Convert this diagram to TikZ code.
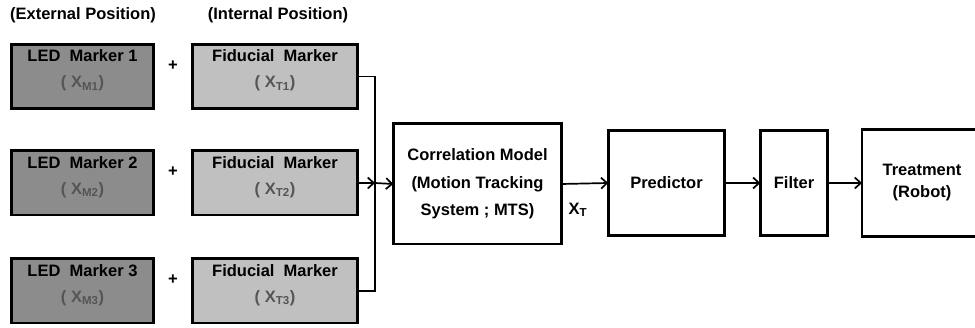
\documentclass[tikz,border=0pt]{standalone}
\usepackage{fontspec}
\setmainfont{Liberation Sans}
\usetikzlibrary{arrows.meta}
\definecolor{ledgray}{RGB}{140,140,140}
\definecolor{fidgray}{RGB}{192,192,192}
\definecolor{subgray}{RGB}{85,85,85}
\newcommand\posx[1]{\textcolor{subgray}{( X\textsubscript{#1})}}
\begin{document}
\begin{tikzpicture}[x=1pt,y=-1pt,
  txt/.style={font=\bfseries\fontsize{16.5}{26}\selectfont, align=center, inner sep=0pt},
  blk/.style={draw=black, line width=2.6pt, inner sep=0pt, outer sep=0pt},
  ledbox/.style={blk, fill=ledgray, minimum width=142.4pt, minimum height=64.4pt},
  fidbox/.style={blk, fill=fidgray, minimum width=165.4pt, minimum height=64.4pt},
  stage/.style={blk, fill=white, txt},
  inner/.style={txt, yshift=6pt},
  wire/.style={line width=1.7pt},
  flow/.style={wire, -{Straight Barb[length=6pt,width=11pt]}}]
  \useasboundingbox (0,0) rectangle (975,328);
  \clip (0,0) rectangle (975,328);

  % column headings
  \node[txt] (exthead) at (83,15) {(External Position)};
  \node[txt] (inthead) at (278,15) {(Internal Position)};

  % external LED markers
  \node[ledbox, label={[inner]center:LED\ \ Marker 1\\\posx{M1}}] (led1) at (82.5,76.5) {};
  \node[ledbox, label={[inner]center:LED\ \ Marker 2\\\posx{M2}}] (led2) at (82.5,183) {};
  \node[ledbox, label={[inner]center:LED\ \ Marker 3\\\posx{M3}}] (led3) at (82.5,291) {};

  % plus signs
  \node[txt] (plus1) at (173,65.5) {+};
  \node[txt] (plus2) at (173,172) {+};
  \node[txt] (plus3) at (173,280) {+};

  % internal fiducial markers
  \node[fidbox, label={[inner]center:Fiducial\ \ Marker\\\posx{T1}}] (fid1) at (275,76.5) {};
  \node[fidbox, label={[inner]center:Fiducial\ \ Marker\\\posx{T2}}] (fid2) at (275,183) {};
  \node[fidbox, label={[inner]center:Fiducial\ \ Marker\\\posx{T3}}] (fid3) at (275,291) {};

  % processing chain
  \node[stage, minimum width=168.4pt, minimum height=120.4pt,
        font=\bfseries\fontsize{16.5}{27.5}\selectfont] (corr) at (477.5,184)
        {Correlation Model\\(Motion Tracking\\System ; MTS)};
  \node[stage, minimum width=116.4pt, minimum height=105.4pt] (pred) at (666.5,183) {Predictor};
  \node[stage, minimum width=67.4pt, minimum height=105.4pt] (filt) at (794,183) {Filter};
  \node[stage, minimum width=120pt, minimum height=107.4pt,
        font=\bfseries\fontsize{16.5}{22}\selectfont] (treat) at (922,183) {Treatment\\(Robot)};

  % bus joining the fiducial markers
  \coordinate (bus) at (375,183);
  \draw[wire] (fid1.east) -| (bus |- fid3.east) -- (fid3.east);
  \draw[flow] (fid2.east) -- (bus);
  \draw[flow] (bus) -- (corr.west);

  % chain connectors
  \draw[flow] (corr.east) -- (pred.west);
  \node[txt] (xt) at (578,210) {X\textsubscript{T}};
  \draw[flow] (pred.east) -- (filt.west);
  \draw[flow] (filt.east) -- (treat.west);
\end{tikzpicture}
\end{document}
